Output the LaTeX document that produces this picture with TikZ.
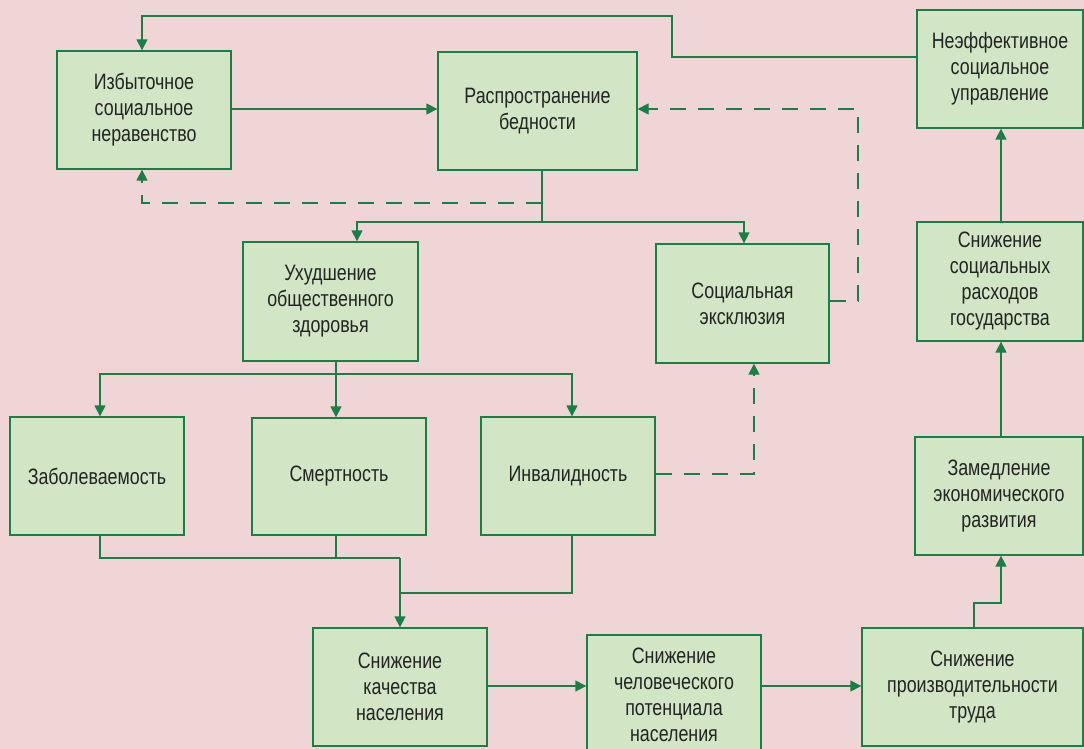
\documentclass[tikz,border=0pt]{standalone}
\usepackage{fontspec}
\setmainfont{Liberation Sans}[FakeStretch=0.8]
\usetikzlibrary{arrows.meta}
\definecolor{bgpink}{RGB}{240,213,214}
\definecolor{boxfill}{RGB}{210,230,198}
\definecolor{lgreen}{RGB}{24,128,69}
\definecolor{txt}{RGB}{35,35,35}
\tikzset{
  box/.style={draw=lgreen, fill=boxfill, line width=1.3pt, align=center, inner sep=0pt,
    text=txt, font=\fontsize{22.3}{26}\selectfont},
  conn/.style={draw=lgreen, line width=1.3pt},
  arr/.style={conn, -{Triangle[length=11pt,width=11pt]}},
  dsh/.style={dash pattern=on 16pt off 12pt}
}
\begin{document}
\begin{tikzpicture}[x=1pt,y=-1pt]
\fill[bgpink] (0,0) rectangle (1084,749);
\useasboundingbox (0,0) rectangle (1084,749);

\node[box, minimum width=174pt, minimum height=118pt] (A) at (144,110) {Избыточное\\социальное\\неравенство};
\node[box, minimum width=199pt, minimum height=118pt] (B) at (537.5,111) {Распространение\\бедности};
\node[box, minimum width=166pt, minimum height=118pt] (C) at (1000,69) {Неэффективное\\социальное\\управление};
\node[box, minimum width=175pt, minimum height=119pt] (D) at (330.5,301.5) {Ухудшение\\общественного\\здоровья};
\node[box, minimum width=173pt, minimum height=119pt] (E) at (742.5,303.5) {Социальная\\эксклюзия};
\node[box, minimum width=166pt, minimum height=119pt] (F) at (1000,281.5) {Снижение\\социальных\\расходов\\государства};
\node[box, minimum width=174pt, minimum height=118pt] (G) at (97,476) {Заболеваемость};
\node[box, minimum width=174pt, minimum height=117pt] (H) at (339,476.5) {Смертность};
\node[box, minimum width=174pt, minimum height=118pt] (I) at (568,476) {Инвалидность};
\node[box, minimum width=168pt, minimum height=118pt] (J) at (999,496) {Замедление\\экономического\\развития};
\node[box, minimum width=174pt, minimum height=118pt] (K) at (400,687) {Снижение\\качества\\населения};
\node[box, minimum width=174pt, minimum height=119pt] (L) at (674,694.5) {Снижение\\человеческого\\потенциала\\населения};
\node[box, minimum width=221pt, minimum height=118pt] (M) at (972.5,687) {Снижение\\производительности\\труда};

% C -> A
\draw[arr] (C.west |- 0,57) -| (672,16) -| (142,0 |- A.north);
% A -> B
\draw[arr] (A.east |- 0,109) -- (B.west |- 0,109);
% B -> D, E
\draw[conn] (542,0 |- B.south) -- (542,222);
\draw[arr] (542,222) -| (357,0 |- D.north);
\draw[arr] (542,222) -| (744,0 |- E.north);
% B -> A dashed
\draw[arr, dsh] (542,203) -| (142,0 |- A.south);
% E -> B dashed
\draw[arr, dsh] (E.east |- 0,301) -| (858,109) -- (B.east |- 0,109);
% D -> G, H, I
\draw[conn] (336,0 |- D.south) -- (336,374);
\draw[arr] (336,374) -| (100,0 |- G.north);
\draw[arr] (336,374) -- (336,0 |- H.north);
\draw[arr] (336,374) -| (572,0 |- I.north);
% I -> E dashed
\draw[arr, dsh] (I.east |- 0,474) -| (754,0 |- E.south);
% G, H, I -> K
\draw[conn] (100,0 |- G.south) |- (400,558);
\draw[conn] (336,0 |- H.south) -- (336,558);
\draw[conn] (572,0 |- I.south) |- (400,593);
\draw[arr] (400,558) -- (400,0 |- K.north);
% K -> L -> M
\draw[arr] (K.east |- 0,686) -- (L.west |- 0,686);
\draw[arr] (L.east |- 0,686) -- (M.west |- 0,686);
% M -> J -> F -> C
\draw[arr] (974,0 |- M.north) |- (1001,603) -- (1001,0 |- J.south);
\draw[arr] (1001,0 |- J.north) -- (1001,0 |- F.south);
\draw[arr] (1001,0 |- F.north) -- (1001,0 |- C.south);
\end{tikzpicture}
\end{document}
